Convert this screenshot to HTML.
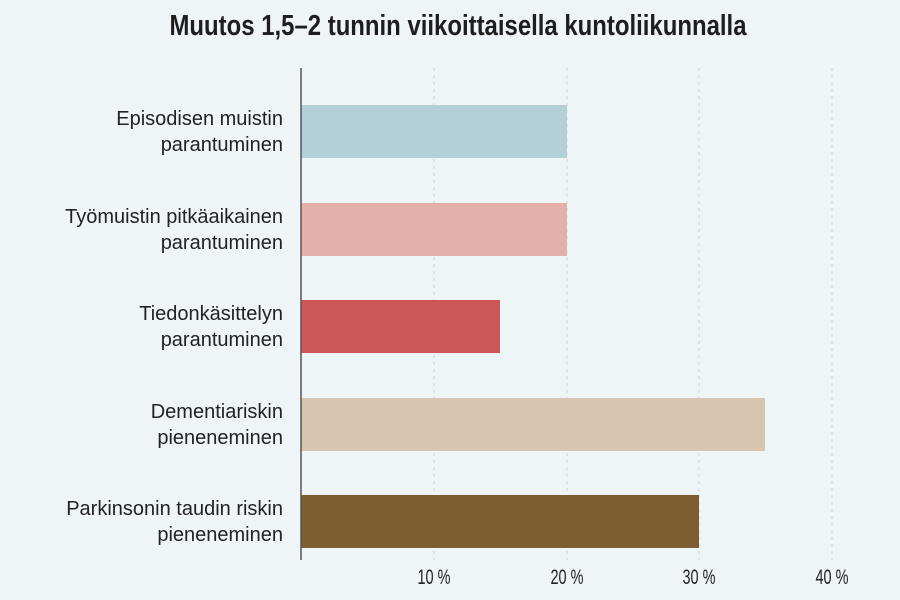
<!DOCTYPE html>
<html><head><meta charset="utf-8"><style>
html,body{margin:0;padding:0;background:#eff4f7;}
svg{display:block;font-family:"Liberation Sans",sans-serif;}
</style></head><body>
<svg width="900" height="600" viewBox="0 0 900 600">
<rect width="900" height="600" fill="#eff4f7"/>
<text x="458" y="35" text-anchor="middle" font-size="29" font-weight="bold" fill="#1e1e1e" textLength="577" lengthAdjust="spacingAndGlyphs">Muutos 1,5–2 tunnin viikoittaisella kuntoliikunnalla</text>
<g stroke="#d0d5d9" stroke-width="1" stroke-dasharray="3,4">
<line x1="434" y1="68" x2="434" y2="560"/>
<line x1="567" y1="68" x2="567" y2="560"/>
<line x1="699" y1="68" x2="699" y2="560"/>
<line x1="832" y1="68" x2="832" y2="560"/>
</g>
<rect x="301" y="105" width="266" height="53" fill="#b3cfd8"/>
<rect x="301" y="203" width="266" height="53" fill="#e5b0aa"/>
<rect x="301" y="300" width="199" height="53" fill="#cd5658"/>
<rect x="301" y="398" width="464" height="53" fill="#d8c5b0"/>
<rect x="301" y="495" width="398" height="53" fill="#7d5e30"/>
<line x1="301" y1="68" x2="301" y2="560" stroke="#555" stroke-width="1.5"/>
<g font-size="20" fill="#222" text-anchor="end">
<text x="283" y="125">Episodisen muistin</text><text x="283" y="151">parantuminen</text>
<text x="283" y="223">Työmuistin pitkäaikainen</text><text x="283" y="249">parantuminen</text>
<text x="283" y="320">Tiedonkäsittelyn</text><text x="283" y="346">parantuminen</text>
<text x="283" y="418">Dementiariskin</text><text x="283" y="444">pieneneminen</text>
<text x="283" y="515">Parkinsonin taudin riskin</text><text x="283" y="541">pieneneminen</text>
</g>
<g font-size="21" fill="#222" text-anchor="middle">
<text x="434" y="584" textLength="33" lengthAdjust="spacingAndGlyphs">10 %</text>
<text x="567" y="584" textLength="33" lengthAdjust="spacingAndGlyphs">20 %</text>
<text x="699" y="584" textLength="33" lengthAdjust="spacingAndGlyphs">30 %</text>
<text x="832" y="584" textLength="33" lengthAdjust="spacingAndGlyphs">40 %</text>
</g>
</svg>
</body></html>
